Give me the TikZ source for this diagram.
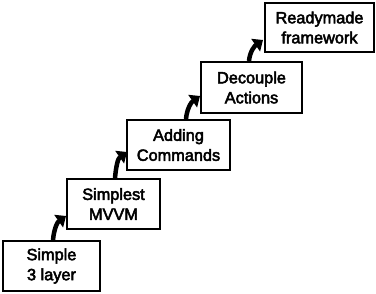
\documentclass[tikz,border=0pt]{standalone}
\usepackage{fontspec}
\setmainfont{Liberation Sans}
\newfontfamily\boxfont[FakeBold=3]{Liberation Sans}
\usetikzlibrary{arrows.meta}
\begin{document}
\begin{tikzpicture}[x=1pt,y=1pt,
  stepbox/.style={draw=black,line width=2pt,rectangle,inner sep=0pt,align=center,
    font=\boxfont\fontsize{16.3}{20}\selectfont},
  arr/.style={line width=4.5pt,-{Triangle[width=15pt,length=9pt]}}]
\useasboundingbox (0,0) rectangle (376,294);
\node[stepbox,minimum width=97pt,minimum height=50pt] (b1) at (51.5,28) {Simple\\3 layer};
\node[stepbox,minimum width=93pt,minimum height=50pt] (b2) at (113.5,90) {Simplest\\MVVM};
\node[stepbox,minimum width=103pt,minimum height=50pt] (b3) at (178.5,149) {Adding\\Commands};
\node[stepbox,minimum width=101pt,minimum height=51pt] (b4) at (251.5,206.5) {Decouple\\Actions};
\node[stepbox,minimum width=109pt,minimum height=49pt] (b5) at (319.5,266.5) {Readymade\\framework};
\coordinate (t1) at (66,78);
\coordinate (t2) at (127,142);
\coordinate (t3) at (200,198);
\coordinate (t4) at (263,254);
\draw[arr] (b1.north -| 53,0) to[out=85,in=215] (t1);
\draw[arr] (b2.north -| 115,0) to[out=85,in=215] (t2);
\draw[arr] (b3.north -| 186,0) to[out=85,in=215] (t3);
\draw[arr] (b4.north -| 249,0) to[out=85,in=215] (t4);
\end{tikzpicture}
\end{document}
